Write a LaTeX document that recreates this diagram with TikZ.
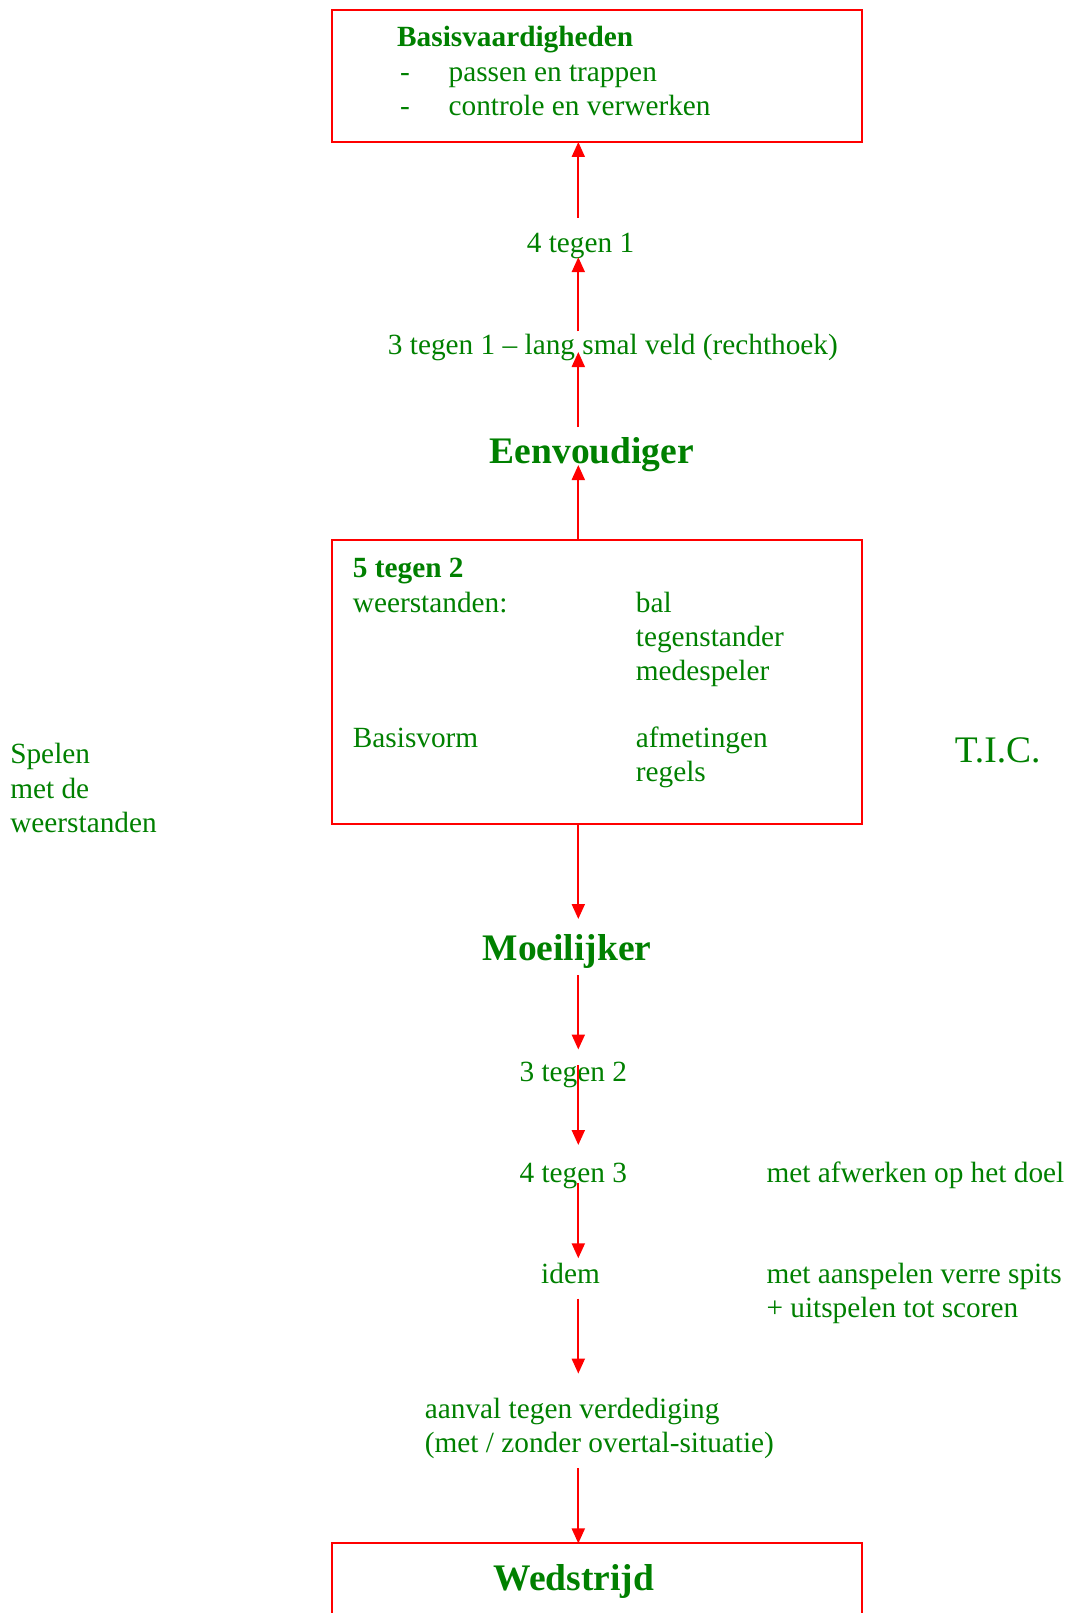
\documentclass[tikz,border=0pt]{standalone}
\usepackage{fontspec}
\setmainfont{Liberation Serif}
\usetikzlibrary{arrows.meta}
\definecolor{tgreen}{RGB}{0,128,0}
\definecolor{tred}{RGB}{255,0,0}
\newcommand{\bodyf}{\fontsize{29.3}{34.5}\selectfont}
\newcommand{\headf}{\fontsize{37.5}{45}\selectfont\bfseries}
\tikzset{
  txt/.style={anchor=base west, inner sep=0pt, outer sep=0pt, font=\bodyf, text=tgreen, text height=20pt, text depth=7pt},
  btxt/.style={txt, font=\bodyf\bfseries},
  head/.style={anchor=base west, inner sep=0pt, outer sep=0pt, font=\headf, text=tgreen, text height=26pt, text depth=8pt},
  tic/.style={anchor=base west, inner sep=0pt, outer sep=0pt, font=\fontsize{37.5}{45}\selectfont, text=tgreen},
  redbox/.style={draw=tred, line width=2pt, inner sep=0pt, outer sep=0pt, anchor=north west},
  arr/.style={draw=tred, line width=2pt, -{Triangle[length=15pt, width=13pt]}}
}
\begin{document}
\begin{tikzpicture}[x=1pt, y=-1pt]
\useasboundingbox (0,0) rectangle (1069,1613);
\clip (0,0) rectangle (1069,1613);
\coordinate (ax) at (578.3,0);
% boxes
\node[redbox, minimum width=529.9pt, minimum height=131.7pt] (b1) at (332.3,10.3) {};
\node[redbox, minimum width=529.9pt, minimum height=284pt] (b2) at (332.3,540.2) {};
\node[redbox, minimum width=529.9pt, minimum height=150pt] (b3) at (332.3,1543.4) {};
% top box text
\node[btxt] (basis) at (397.2,47) {Basisvaardigheden};
\node[txt] (d1) at (400,82) {-};
\node[txt] (l1) at (448.6,82) {passen en trappen};
\node[txt] (d2) at (400,116) {-};
\node[txt] (l2) at (448.6,116) {controle en verwerken};
% upper chain
\node[txt] (t41) at (526.8,253) {4 tegen 1};
\node[txt] (t31) at (387.9,354) {3 tegen 1 – lang smal veld (rechthoek)};
\node[head] (eenv) at (489.8,463) {Eenvoudiger};
% middle box text
\node[btxt] (t52) at (352.9,577) {5 tegen 2};
\node[txt] (weer) at (352.9,612) {weerstanden:};
\node[txt] (bal) at (635.9,612) {bal};
\node[txt] (tegst) at (635.9,646) {tegenstander};
\node[txt] (mede) at (635.9,680) {medespeler};
\node[txt] (bvorm) at (352.9,747) {Basisvorm};
\node[txt] (afm) at (635.9,747) {afmetingen};
\node[txt] (reg) at (635.9,781) {regels};
% side labels
\node[txt] (sp1) at (10.3,763) {Spelen};
\node[txt] (sp2) at (10.3,798) {met de};
\node[txt] (sp3) at (10.3,832) {weerstanden};
\node[tic] (tic) at (954.8,762) {T.I.C.};
% lower chain
\node[head] (moei) at (482.6,960) {Moeilijker};
\node[txt] (t32) at (519.6,1081) {3 tegen 2};
\node[txt] (t43) at (519.6,1182) {4 tegen 3};
\node[txt] (afw) at (766.5,1182) {met afwerken op het doel};
\node[txt] (idem) at (541.2,1283) {idem};
\node[txt] (aansp) at (766.5,1283) {met aanspelen verre spits};
\node[txt] (uitsp) at (766.5,1317) {+ uitspelen tot scoren};
\node[txt] (aanv1) at (424.9,1418) {aanval tegen verdediging};
\node[txt] (aanv2) at (424.9,1452) {(met / zonder overtal-situatie)};
\node[head] (wed) at (493.9,1590) {Wedstrijd};
% arrows up
\draw[arr] ([yshift=15pt]t41.north -| ax) -- (b1.south -| ax);
\draw[arr] ([yshift=2.7pt]t31.north -| ax) -- ([yshift=2.8pt]t41.south -| ax);
\draw[arr] ([yshift=10pt]eenv.north -| ax) -- ([yshift=9pt]t31.south -| ax);
\draw[arr] (b2.north -| ax) -- ([yshift=6pt]eenv.south -| ax);
% arrows down
\draw[arr] (b2.south -| ax) -- ([yshift=15pt]moei.north -| ax);
\draw[arr] ([yshift=-7.4pt]moei.south -| ax) -- ([yshift=11.5pt]t32.north -| ax);
\draw[arr] ([yshift=23pt]t32.south -| ax) -- ([yshift=17pt]t43.north -| ax);
\draw[arr] ([yshift=5.8pt]t43.south -| ax) -- ([yshift=4.7pt]idem.north -| ax);
\draw[arr] ([yshift=-8.5pt]idem.south -| ax) -- ([yshift=24.4pt]aanv1.north -| ax);
\draw[arr] ([yshift=-9.2pt]aanv2.south -| ax) -- (b3.north -| ax);
\end{tikzpicture}
\end{document}
